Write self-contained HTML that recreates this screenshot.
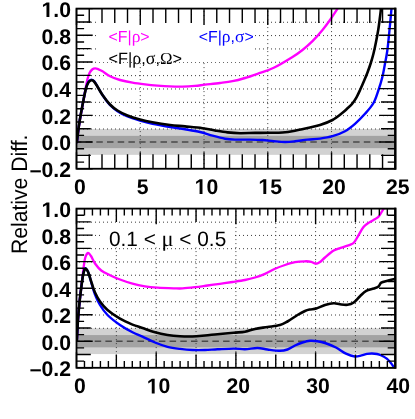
<!DOCTYPE html>
<html><head><meta charset="utf-8"><title>chart</title>
<style>
html,body{margin:0;padding:0;background:#fff;}
body{width:415px;height:419px;overflow:hidden;}
svg{display:block;will-change:transform;}
text{font-family:"Liberation Sans",sans-serif;text-rendering:geometricPrecision;}
.b{font-size:21.2px;font-weight:bold;fill:#000;}
.l{font-size:15.7px;}
.m{font-size:20.6px;}
.g{font-family:"Liberation Serif",serif;}
.t{font-size:21.15px;}
</style></head><body>
<svg width="415" height="419" viewBox="0 0 415 419">
<rect width="100%" height="100%" fill="#fff"/>
<clipPath id="cp1"><rect x="76.50" y="8.60" width="318.80" height="160.15"/></clipPath>
<rect x="76.50" y="129.06" width="318.80" height="25.80" fill="#d2d2d2"/>
<rect x="76.50" y="135.86" width="318.80" height="12.30" fill="#a3a3a3"/>
<line x1="76.50" y1="142.06" x2="395.30" y2="142.06" stroke="#4a4a4a" stroke-width="1.6" stroke-dasharray="6.5 4.2" stroke-dashoffset="-9.1"/>
<path d="M76.50,129.01 H395.30 M76.50,115.67 H395.30 M76.50,102.32 H395.30 M76.50,88.97 H395.30 M76.50,75.63 H395.30 M76.50,62.28 H395.30 M76.50,48.94 H395.30 M76.50,35.59 H395.30 M76.50,22.25 H395.30 M140.26,8.60 V168.75 M204.02,8.60 V168.75 M267.78,8.60 V168.75 M331.54,8.60 V168.75" stroke="#3c3c3c" stroke-width="1" stroke-dasharray="1 3" stroke-dashoffset="-2.5" fill="none"/>
<rect x="96.00" y="19.50" width="158.50" height="42.50" fill="#fff"/>
<path d="M76.90,143.00 C77.13,141.00 77.80,134.83 78.30,131.00 C78.80,127.17 79.38,123.25 79.90,120.00 C80.42,116.75 80.88,114.33 81.40,111.50 C81.92,108.67 82.50,105.67 83.00,103.00 C83.50,100.33 83.95,98.00 84.40,95.50 C84.85,93.00 85.22,90.63 85.70,88.00 C86.18,85.37 86.68,82.17 87.30,79.70 C87.92,77.23 88.58,74.90 89.40,73.20 C90.22,71.50 91.23,70.30 92.20,69.50 C93.17,68.70 94.15,68.43 95.20,68.40 C96.25,68.37 97.28,68.82 98.50,69.30 C99.72,69.78 100.58,70.15 102.50,71.30 C104.42,72.45 107.08,74.75 110.00,76.20 C112.92,77.65 116.25,78.92 120.00,80.00 C123.75,81.08 128.33,81.97 132.50,82.70 C136.67,83.43 140.83,83.92 145.00,84.40 C149.17,84.88 153.33,85.27 157.50,85.60 C161.67,85.93 165.83,86.23 170.00,86.40 C174.17,86.57 178.33,86.68 182.50,86.60 C186.67,86.52 191.25,86.22 195.00,85.90 C198.75,85.58 200.83,85.18 205.00,84.70 C209.17,84.22 215.42,83.58 220.00,83.00 C224.58,82.42 228.33,82.03 232.50,81.20 C236.67,80.37 240.83,79.23 245.00,78.00 C249.17,76.77 252.71,75.50 257.50,73.80 C262.29,72.10 267.92,70.60 273.75,67.80 C279.58,65.00 287.71,59.97 292.50,57.00 C297.29,54.03 299.17,52.63 302.50,50.00 C305.83,47.37 309.17,44.53 312.50,41.20 C315.83,37.87 319.58,33.53 322.50,30.00 C325.42,26.47 327.50,23.55 330.00,20.00 C332.50,16.45 335.67,11.53 337.50,8.70 C339.33,5.87 340.42,3.95 341.00,3.00" stroke="#ff00ff" stroke-width="2.35" fill="none" stroke-linejoin="round" stroke-linecap="butt" clip-path="url(#cp1)"/>
<path d="M76.80,143.00 C77.03,141.00 77.70,134.83 78.20,131.00 C78.70,127.17 79.28,123.25 79.80,120.00 C80.32,116.75 80.78,114.33 81.30,111.50 C81.82,108.67 82.38,105.70 82.90,103.00 C83.42,100.30 83.87,97.85 84.40,95.30 C84.93,92.75 85.45,89.88 86.10,87.70 C86.75,85.52 87.60,83.45 88.30,82.20 C89.00,80.95 89.68,80.60 90.30,80.20 C90.92,79.80 91.38,79.67 92.00,79.80 C92.62,79.93 93.25,80.17 94.00,81.00 C94.75,81.83 95.08,82.47 96.50,84.80 C97.92,87.13 100.25,91.63 102.50,95.00 C104.75,98.37 107.50,102.30 110.00,105.00 C112.50,107.70 114.58,109.28 117.50,111.20 C120.42,113.12 123.75,114.93 127.50,116.50 C131.25,118.07 135.83,119.38 140.00,120.60 C144.17,121.82 147.50,122.73 152.50,123.80 C157.50,124.87 164.58,126.08 170.00,127.00 C175.42,127.92 180.00,128.47 185.00,129.30 C190.00,130.13 195.42,130.93 200.00,132.00 C204.58,133.07 208.33,134.58 212.50,135.70 C216.67,136.82 221.25,138.05 225.00,138.70 C228.75,139.35 230.83,139.45 235.00,139.60 C239.17,139.75 245.42,139.53 250.00,139.60 C254.58,139.67 258.54,139.73 262.50,140.00 C266.46,140.27 270.00,140.87 273.75,141.20 C277.50,141.53 281.46,141.98 285.00,142.00 C288.54,142.02 291.25,141.70 295.00,141.30 C298.75,140.90 303.33,140.05 307.50,139.60 C311.67,139.15 315.83,139.17 320.00,138.60 C324.17,138.03 328.33,137.43 332.50,136.20 C336.67,134.97 341.25,133.27 345.00,131.20 C348.75,129.13 351.67,126.70 355.00,123.80 C358.33,120.90 361.92,117.27 365.00,113.80 C368.08,110.33 371.25,106.97 373.50,103.00 C375.75,99.03 377.04,94.25 378.50,90.00 C379.96,85.75 381.21,81.67 382.25,77.50 C383.29,73.33 383.92,69.42 384.75,65.00 C385.58,60.58 386.46,56.83 387.25,51.00 C388.04,45.17 388.79,37.08 389.50,30.00 C390.21,22.92 391.08,13.17 391.50,8.50 C391.92,3.83 391.92,3.08 392.00,2.00" stroke="#0000ff" stroke-width="2.40" fill="none" stroke-linejoin="round" stroke-linecap="butt" clip-path="url(#cp1)"/>
<path d="M76.80,143.00 C77.03,141.00 77.70,134.83 78.20,131.00 C78.70,127.17 79.28,123.25 79.80,120.00 C80.32,116.75 80.78,114.33 81.30,111.50 C81.82,108.67 82.38,105.67 82.90,103.00 C83.42,100.33 83.87,98.00 84.40,95.50 C84.93,93.00 85.45,90.15 86.10,88.00 C86.75,85.85 87.60,83.82 88.30,82.60 C89.00,81.38 89.68,81.08 90.30,80.70 C90.92,80.32 91.38,80.17 92.00,80.30 C92.62,80.43 93.25,80.72 94.00,81.50 C94.75,82.28 95.08,82.75 96.50,85.00 C97.92,87.25 100.25,91.75 102.50,95.00 C104.75,98.25 107.50,101.92 110.00,104.50 C112.50,107.08 114.58,108.67 117.50,110.50 C120.42,112.33 123.75,114.00 127.50,115.50 C131.25,117.00 135.83,118.37 140.00,119.50 C144.17,120.63 147.50,121.38 152.50,122.30 C157.50,123.22 164.58,124.32 170.00,125.00 C175.42,125.68 179.58,125.87 185.00,126.40 C190.42,126.93 197.50,127.52 202.50,128.20 C207.50,128.88 210.83,129.80 215.00,130.50 C219.17,131.20 223.33,131.95 227.50,132.40 C231.67,132.85 235.42,133.12 240.00,133.20 C244.58,133.28 250.00,132.97 255.00,132.90 C260.00,132.83 265.42,132.87 270.00,132.80 C274.58,132.73 278.33,132.85 282.50,132.50 C286.67,132.15 290.83,131.45 295.00,130.70 C299.17,129.95 303.33,128.95 307.50,128.00 C311.67,127.05 315.83,126.33 320.00,125.00 C324.17,123.67 328.75,122.03 332.50,120.00 C336.25,117.97 340.00,114.75 342.50,112.80 C345.00,110.85 345.92,109.77 347.50,108.30 C349.08,106.83 350.50,105.83 352.00,104.00 C353.50,102.17 355.08,99.80 356.50,97.30 C357.92,94.80 359.25,91.72 360.50,89.00 C361.75,86.28 362.83,83.75 364.00,81.00 C365.17,78.25 366.37,75.50 367.50,72.50 C368.63,69.50 369.80,66.17 370.80,63.00 C371.80,59.83 372.63,57.00 373.50,53.50 C374.37,50.00 375.20,46.00 376.00,42.00 C376.80,38.00 377.63,33.67 378.30,29.50 C378.97,25.33 379.55,20.50 380.00,17.00 C380.45,13.50 380.70,11.00 381.00,8.50 C381.30,6.00 381.67,3.08 381.80,2.00" stroke="#000" stroke-width="2.60" fill="none" stroke-linejoin="round" stroke-linecap="butt" clip-path="url(#cp1)"/>
<path d="M76.50,8.60 v16.40 M76.50,168.75 v-16.40 M89.25,8.60 v14.40 M89.25,168.75 v-14.40 M102.00,8.60 v14.40 M102.00,168.75 v-14.40 M114.76,8.60 v14.40 M114.76,168.75 v-14.40 M127.51,8.60 v14.40 M127.51,168.75 v-14.40 M140.26,8.60 v16.40 M140.26,168.75 v-16.40 M153.01,8.60 v14.40 M153.01,168.75 v-14.40 M165.76,8.60 v14.40 M165.76,168.75 v-14.40 M178.52,8.60 v14.40 M178.52,168.75 v-14.40 M191.27,8.60 v14.40 M191.27,168.75 v-14.40 M204.02,8.60 v16.40 M204.02,168.75 v-16.40 M216.77,8.60 v14.40 M216.77,168.75 v-14.40 M229.52,8.60 v14.40 M229.52,168.75 v-14.40 M242.28,8.60 v14.40 M242.28,168.75 v-14.40 M255.03,8.60 v14.40 M255.03,168.75 v-14.40 M267.78,8.60 v16.40 M267.78,168.75 v-16.40 M280.53,8.60 v14.40 M280.53,168.75 v-14.40 M293.28,8.60 v14.40 M293.28,168.75 v-14.40 M306.04,8.60 v14.40 M306.04,168.75 v-14.40 M318.79,8.60 v14.40 M318.79,168.75 v-14.40 M331.54,8.60 v16.40 M331.54,168.75 v-16.40 M344.29,8.60 v14.40 M344.29,168.75 v-14.40 M357.04,8.60 v14.40 M357.04,168.75 v-14.40 M369.80,8.60 v14.40 M369.80,168.75 v-14.40 M382.55,8.60 v14.40 M382.55,168.75 v-14.40 M395.30,8.60 v16.40 M395.30,168.75 v-16.40 M76.50,168.75 h16.20 M395.30,168.75 h-16.20 M76.50,162.08 h7.60 M395.30,162.08 h-7.60 M76.50,155.40 h14.30 M395.30,155.40 h-14.30 M76.50,148.73 h7.60 M395.30,148.73 h-7.60 M76.50,142.06 h16.20 M395.30,142.06 h-16.20 M76.50,135.39 h7.60 M395.30,135.39 h-7.60 M76.50,128.71 h14.30 M395.30,128.71 h-14.30 M76.50,122.04 h7.60 M395.30,122.04 h-7.60 M76.50,115.37 h16.20 M395.30,115.37 h-16.20 M76.50,108.69 h7.60 M395.30,108.69 h-7.60 M76.50,102.02 h14.30 M395.30,102.02 h-14.30 M76.50,95.35 h7.60 M395.30,95.35 h-7.60 M76.50,88.67 h16.20 M395.30,88.67 h-16.20 M76.50,82.00 h7.60 M395.30,82.00 h-7.60 M76.50,75.33 h14.30 M395.30,75.33 h-14.30 M76.50,68.66 h7.60 M395.30,68.66 h-7.60 M76.50,61.98 h16.20 M395.30,61.98 h-16.20 M76.50,55.31 h7.60 M395.30,55.31 h-7.60 M76.50,48.64 h14.30 M395.30,48.64 h-14.30 M76.50,41.96 h7.60 M395.30,41.96 h-7.60 M76.50,35.29 h16.20 M395.30,35.29 h-16.20 M76.50,28.62 h7.60 M395.30,28.62 h-7.60 M76.50,21.95 h14.30 M395.30,21.95 h-14.30 M76.50,15.27 h7.60 M395.30,15.27 h-7.60 M76.50,8.60 h16.20 M395.30,8.60 h-16.20" stroke="#000" stroke-width="1.40" fill="none"/>
<rect x="76.50" y="8.60" width="318.80" height="160.15" fill="none" stroke="#000" stroke-width="1.80"/>
<line x1="395.30" y1="7.70" x2="395.30" y2="169.65" stroke="#000" stroke-width="2.3"/>
<text x="29.74" y="177.15" class="b">–</text><text x="41.53" y="177.15" class="b">0</text><text x="53.32" y="177.15" class="b">.</text><text x="59.21" y="177.15" class="b">2</text>
<text x="41.53" y="150.46" class="b">0</text><text x="53.32" y="150.46" class="b">.</text><text x="59.21" y="150.46" class="b">0</text>
<text x="41.53" y="123.77" class="b">0</text><text x="53.32" y="123.77" class="b">.</text><text x="59.21" y="123.77" class="b">2</text>
<text x="41.53" y="97.07" class="b">0</text><text x="53.32" y="97.07" class="b">.</text><text x="59.21" y="97.07" class="b">4</text>
<text x="41.53" y="70.38" class="b">0</text><text x="53.32" y="70.38" class="b">.</text><text x="59.21" y="70.38" class="b">6</text>
<text x="41.53" y="43.69" class="b">0</text><text x="53.32" y="43.69" class="b">.</text><text x="59.21" y="43.69" class="b">8</text>
<path d="M46.48,17.00 L46.48,4.89 L42.98,7.07 L42.98,4.79 L46.63,2.41 L49.39,2.41 L49.39,17.00Z" fill="#000"/><text x="53.32" y="17.00" class="b">.</text><text x="59.21" y="17.00" class="b">0</text>
<text x="73.90" y="193.90" class="b">0</text>
<text x="136.76" y="193.90" class="b">5</text>
<path d="M199.58,193.90 L199.58,181.79 L196.08,183.97 L196.08,181.69 L199.73,179.31 L202.49,179.31 L202.49,193.90Z" fill="#000"/><text x="206.42" y="193.90" class="b">0</text>
<path d="M263.34,193.90 L263.34,181.79 L259.84,183.97 L259.84,181.69 L263.49,179.31 L266.25,179.31 L266.25,193.90Z" fill="#000"/><text x="270.18" y="193.90" class="b">5</text>
<text x="322.15" y="193.90" class="b">2</text><text x="333.94" y="193.90" class="b">0</text>
<text x="385.91" y="193.90" class="b">2</text><text x="397.70" y="193.90" class="b">5</text>
<clipPath id="cp2"><rect x="76.50" y="208.60" width="318.80" height="159.20"/></clipPath>
<rect x="76.50" y="328.27" width="318.80" height="25.80" fill="#d2d2d2"/>
<rect x="76.50" y="335.07" width="318.80" height="12.30" fill="#a3a3a3"/>
<line x1="76.50" y1="341.27" x2="395.30" y2="341.27" stroke="#4a4a4a" stroke-width="1.6" stroke-dasharray="6.5 4.2" stroke-dashoffset="-7.5"/>
<path d="M76.50,328.30 H395.30 M76.50,315.03 H395.30 M76.50,301.77 H395.30 M76.50,288.50 H395.30 M76.50,275.23 H395.30 M76.50,261.97 H395.30 M76.50,248.70 H395.30 M76.50,235.43 H395.30 M76.50,222.17 H395.30 M116.35,208.60 V367.80 M156.20,208.60 V367.80 M196.05,208.60 V367.80 M235.90,208.60 V367.80 M275.75,208.60 V367.80 M315.60,208.60 V367.80 M355.45,208.60 V367.80" stroke="#3c3c3c" stroke-width="1" stroke-dasharray="1 3" stroke-dashoffset="-2.5" fill="none"/>
<rect x="101.00" y="223.00" width="133.00" height="24.50" fill="#fff"/>
<path d="M76.80,341.30 C77.00,337.75 77.55,326.47 78.00,320.00 C78.45,313.53 78.97,307.83 79.50,302.50 C80.03,297.17 80.68,292.42 81.20,288.00 C81.72,283.58 82.17,279.67 82.60,276.00 C83.03,272.33 83.35,269.08 83.80,266.00 C84.25,262.92 84.60,259.67 85.30,257.50 C86.00,255.33 87.05,253.25 88.00,253.00 C88.95,252.75 89.83,254.25 91.00,256.00 C92.17,257.75 93.29,261.08 95.00,263.50 C96.71,265.92 98.75,268.55 101.25,270.50 C103.75,272.45 106.88,273.70 110.00,275.20 C113.12,276.70 116.25,278.08 120.00,279.50 C123.75,280.92 128.33,282.57 132.50,283.70 C136.67,284.83 140.83,285.65 145.00,286.30 C149.17,286.95 152.71,287.27 157.50,287.60 C162.29,287.93 169.58,288.17 173.75,288.30 C177.92,288.43 178.96,288.58 182.50,288.40 C186.04,288.22 190.83,287.68 195.00,287.20 C199.17,286.72 203.33,286.07 207.50,285.50 C211.67,284.93 215.83,284.38 220.00,283.80 C224.17,283.22 228.33,282.63 232.50,282.00 C236.67,281.37 241.25,280.75 245.00,280.00 C248.75,279.25 251.67,278.53 255.00,277.50 C258.33,276.47 261.67,275.25 265.00,273.80 C268.33,272.35 271.67,270.27 275.00,268.80 C278.33,267.33 281.67,266.10 285.00,265.00 C288.33,263.90 291.67,262.82 295.00,262.20 C298.33,261.58 302.29,261.37 305.00,261.30 C307.71,261.23 309.50,261.40 311.25,261.80 C313.00,262.20 314.04,263.67 315.50,263.70 C316.96,263.73 318.42,263.03 320.00,262.00 C321.58,260.97 322.71,259.42 325.00,257.50 C327.29,255.58 330.83,252.20 333.75,250.50 C336.67,248.80 339.79,248.25 342.50,247.30 C345.21,246.35 348.08,245.60 350.00,244.80 C351.92,244.00 352.67,243.93 354.00,242.50 C355.33,241.07 356.42,238.77 358.00,236.20 C359.58,233.63 361.67,229.37 363.50,227.10 C365.33,224.83 367.03,223.95 369.00,222.60 C370.97,221.25 373.65,220.05 375.30,219.00 C376.95,217.95 377.55,217.97 378.90,216.30 C380.25,214.63 382.05,211.22 383.40,209.00 C384.75,206.78 386.40,204.00 387.00,203.00" stroke="#ff00ff" stroke-width="2.35" fill="none" stroke-linejoin="round" stroke-linecap="butt" clip-path="url(#cp2)"/>
<path d="M76.80,341.30 C77.00,337.75 77.55,326.47 78.00,320.00 C78.45,313.53 78.97,307.83 79.50,302.50 C80.03,297.17 80.62,292.53 81.20,288.00 C81.78,283.47 82.47,278.35 83.00,275.30 C83.53,272.25 83.98,270.87 84.40,269.70 C84.82,268.53 85.07,268.25 85.50,268.30 C85.93,268.35 86.46,269.10 87.00,270.00 C87.54,270.90 87.92,271.20 88.75,273.70 C89.58,276.20 90.96,281.53 92.00,285.00 C93.04,288.47 93.67,291.17 95.00,294.50 C96.33,297.83 97.92,301.58 100.00,305.00 C102.08,308.42 104.17,311.67 107.50,315.00 C110.83,318.33 115.83,322.12 120.00,325.00 C124.17,327.88 128.75,330.37 132.50,332.30 C136.25,334.23 138.75,334.90 142.50,336.60 C146.25,338.30 150.83,340.80 155.00,342.50 C159.17,344.20 163.33,345.73 167.50,346.80 C171.67,347.87 175.83,348.37 180.00,348.90 C184.17,349.43 188.33,349.82 192.50,350.00 C196.67,350.18 200.83,350.12 205.00,350.00 C209.17,349.88 212.71,349.53 217.50,349.30 C222.29,349.07 229.17,348.62 233.75,348.60 C238.33,348.58 241.04,349.30 245.00,349.20 C248.96,349.10 253.75,347.95 257.50,348.00 C261.25,348.05 263.75,349.03 267.50,349.50 C271.25,349.97 276.67,350.80 280.00,350.80 C283.33,350.80 285.00,350.38 287.50,349.50 C290.00,348.62 292.50,346.67 295.00,345.50 C297.50,344.33 300.00,343.28 302.50,342.50 C305.00,341.72 307.50,341.02 310.00,340.80 C312.50,340.58 315.00,340.83 317.50,341.20 C320.00,341.57 321.92,341.95 325.00,343.00 C328.08,344.05 332.50,345.72 336.00,347.50 C339.50,349.28 342.88,352.20 346.00,353.70 C349.12,355.20 352.17,356.22 354.75,356.50 C357.33,356.78 359.46,355.83 361.50,355.40 C363.54,354.97 365.25,354.22 367.00,353.90 C368.75,353.58 370.33,353.48 372.00,353.50 C373.67,353.52 375.42,353.67 377.00,354.00 C378.58,354.33 379.87,354.73 381.50,355.50 C383.13,356.27 385.30,357.43 386.80,358.60 C388.30,359.77 389.38,361.17 390.50,362.50 C391.62,363.83 392.42,365.02 393.50,366.60 C394.58,368.18 396.42,371.10 397.00,372.00" stroke="#0000ff" stroke-width="2.40" fill="none" stroke-linejoin="round" stroke-linecap="butt" clip-path="url(#cp2)"/>
<path d="M76.80,341.30 C77.00,337.75 77.55,326.47 78.00,320.00 C78.45,313.53 78.97,307.83 79.50,302.50 C80.03,297.17 80.62,292.50 81.20,288.00 C81.78,283.50 82.47,278.50 83.00,275.50 C83.53,272.50 83.98,271.15 84.40,270.00 C84.82,268.85 85.07,268.60 85.50,268.60 C85.93,268.60 86.46,269.15 87.00,270.00 C87.54,270.85 87.92,271.37 88.75,273.70 C89.58,276.03 90.96,280.87 92.00,284.00 C93.04,287.13 93.67,289.58 95.00,292.50 C96.33,295.42 97.92,298.58 100.00,301.50 C102.08,304.42 104.17,307.13 107.50,310.00 C110.83,312.87 115.83,316.27 120.00,318.70 C124.17,321.13 128.75,323.05 132.50,324.60 C136.25,326.15 138.75,326.72 142.50,328.00 C146.25,329.28 150.83,331.13 155.00,332.30 C159.17,333.47 163.33,334.33 167.50,335.00 C171.67,335.67 175.83,336.05 180.00,336.30 C184.17,336.55 188.33,336.63 192.50,336.50 C196.67,336.37 200.83,335.88 205.00,335.50 C209.17,335.12 212.71,334.67 217.50,334.20 C222.29,333.73 229.17,333.12 233.75,332.70 C238.33,332.28 241.46,332.33 245.00,331.70 C248.54,331.07 251.25,329.68 255.00,328.90 C258.75,328.12 263.33,327.65 267.50,327.00 C271.67,326.35 276.67,325.92 280.00,325.00 C283.33,324.08 284.58,323.17 287.50,321.50 C290.42,319.83 294.58,316.75 297.50,315.00 C300.42,313.25 302.92,311.92 305.00,311.00 C307.08,310.08 308.12,309.90 310.00,309.50 C311.88,309.10 313.75,309.35 316.25,308.60 C318.75,307.85 322.08,305.90 325.00,305.00 C327.92,304.10 331.25,303.32 333.75,303.20 C336.25,303.08 337.71,304.03 340.00,304.30 C342.29,304.57 345.21,305.10 347.50,304.80 C349.79,304.50 351.67,303.93 353.75,302.50 C355.83,301.07 357.92,298.15 360.00,296.20 C362.08,294.25 363.96,292.07 366.25,290.80 C368.54,289.53 371.71,289.32 373.75,288.60 C375.79,287.88 377.25,287.48 378.50,286.50 C379.75,285.52 379.75,283.67 381.25,282.70 C382.75,281.73 385.04,281.37 387.50,280.70 C389.96,280.03 394.58,279.03 396.00,278.70" stroke="#000" stroke-width="2.60" fill="none" stroke-linejoin="round" stroke-linecap="butt" clip-path="url(#cp2)"/>
<path d="M76.50,208.60 v15.60 M76.50,367.80 v-15.60 M84.47,208.60 v6.80 M84.47,367.80 v-6.80 M92.44,208.60 v6.80 M92.44,367.80 v-6.80 M100.41,208.60 v6.80 M100.41,367.80 v-6.80 M108.38,208.60 v6.80 M108.38,367.80 v-6.80 M116.35,208.60 v13.40 M116.35,367.80 v-13.40 M124.32,208.60 v6.80 M124.32,367.80 v-6.80 M132.29,208.60 v6.80 M132.29,367.80 v-6.80 M140.26,208.60 v6.80 M140.26,367.80 v-6.80 M148.23,208.60 v6.80 M148.23,367.80 v-6.80 M156.20,208.60 v15.60 M156.20,367.80 v-15.60 M164.17,208.60 v6.80 M164.17,367.80 v-6.80 M172.14,208.60 v6.80 M172.14,367.80 v-6.80 M180.11,208.60 v6.80 M180.11,367.80 v-6.80 M188.08,208.60 v6.80 M188.08,367.80 v-6.80 M196.05,208.60 v13.40 M196.05,367.80 v-13.40 M204.02,208.60 v6.80 M204.02,367.80 v-6.80 M211.99,208.60 v6.80 M211.99,367.80 v-6.80 M219.96,208.60 v6.80 M219.96,367.80 v-6.80 M227.93,208.60 v6.80 M227.93,367.80 v-6.80 M235.90,208.60 v15.60 M235.90,367.80 v-15.60 M243.87,208.60 v6.80 M243.87,367.80 v-6.80 M251.84,208.60 v6.80 M251.84,367.80 v-6.80 M259.81,208.60 v6.80 M259.81,367.80 v-6.80 M267.78,208.60 v6.80 M267.78,367.80 v-6.80 M275.75,208.60 v13.40 M275.75,367.80 v-13.40 M283.72,208.60 v6.80 M283.72,367.80 v-6.80 M291.69,208.60 v6.80 M291.69,367.80 v-6.80 M299.66,208.60 v6.80 M299.66,367.80 v-6.80 M307.63,208.60 v6.80 M307.63,367.80 v-6.80 M315.60,208.60 v15.60 M315.60,367.80 v-15.60 M323.57,208.60 v6.80 M323.57,367.80 v-6.80 M331.54,208.60 v6.80 M331.54,367.80 v-6.80 M339.51,208.60 v6.80 M339.51,367.80 v-6.80 M347.48,208.60 v6.80 M347.48,367.80 v-6.80 M355.45,208.60 v13.40 M355.45,367.80 v-13.40 M363.42,208.60 v6.80 M363.42,367.80 v-6.80 M371.39,208.60 v6.80 M371.39,367.80 v-6.80 M379.36,208.60 v6.80 M379.36,367.80 v-6.80 M387.33,208.60 v6.80 M387.33,367.80 v-6.80 M395.30,208.60 v15.60 M395.30,367.80 v-15.60 M76.50,367.80 h16.20 M395.30,367.80 h-16.20 M76.50,361.17 h7.60 M395.30,361.17 h-7.60 M76.50,354.53 h14.30 M395.30,354.53 h-14.30 M76.50,347.90 h7.60 M395.30,347.90 h-7.60 M76.50,341.27 h16.20 M395.30,341.27 h-16.20 M76.50,334.63 h7.60 M395.30,334.63 h-7.60 M76.50,328.00 h14.30 M395.30,328.00 h-14.30 M76.50,321.37 h7.60 M395.30,321.37 h-7.60 M76.50,314.73 h16.20 M395.30,314.73 h-16.20 M76.50,308.10 h7.60 M395.30,308.10 h-7.60 M76.50,301.47 h14.30 M395.30,301.47 h-14.30 M76.50,294.83 h7.60 M395.30,294.83 h-7.60 M76.50,288.20 h16.20 M395.30,288.20 h-16.20 M76.50,281.57 h7.60 M395.30,281.57 h-7.60 M76.50,274.93 h14.30 M395.30,274.93 h-14.30 M76.50,268.30 h7.60 M395.30,268.30 h-7.60 M76.50,261.67 h16.20 M395.30,261.67 h-16.20 M76.50,255.03 h7.60 M395.30,255.03 h-7.60 M76.50,248.40 h14.30 M395.30,248.40 h-14.30 M76.50,241.77 h7.60 M395.30,241.77 h-7.60 M76.50,235.13 h16.20 M395.30,235.13 h-16.20 M76.50,228.50 h7.60 M395.30,228.50 h-7.60 M76.50,221.87 h14.30 M395.30,221.87 h-14.30 M76.50,215.23 h7.60 M395.30,215.23 h-7.60 M76.50,208.60 h16.20 M395.30,208.60 h-16.20" stroke="#000" stroke-width="1.40" fill="none"/>
<rect x="76.50" y="208.60" width="318.80" height="159.20" fill="none" stroke="#000" stroke-width="1.80"/>
<line x1="395.30" y1="207.70" x2="395.30" y2="368.70" stroke="#000" stroke-width="2.3"/>
<text x="29.74" y="376.20" class="b">–</text><text x="41.53" y="376.20" class="b">0</text><text x="53.32" y="376.20" class="b">.</text><text x="59.21" y="376.20" class="b">2</text>
<text x="41.53" y="349.67" class="b">0</text><text x="53.32" y="349.67" class="b">.</text><text x="59.21" y="349.67" class="b">0</text>
<text x="41.53" y="323.13" class="b">0</text><text x="53.32" y="323.13" class="b">.</text><text x="59.21" y="323.13" class="b">2</text>
<text x="41.53" y="296.60" class="b">0</text><text x="53.32" y="296.60" class="b">.</text><text x="59.21" y="296.60" class="b">4</text>
<text x="41.53" y="270.07" class="b">0</text><text x="53.32" y="270.07" class="b">.</text><text x="59.21" y="270.07" class="b">6</text>
<text x="41.53" y="243.53" class="b">0</text><text x="53.32" y="243.53" class="b">.</text><text x="59.21" y="243.53" class="b">8</text>
<path d="M46.48,217.00 L46.48,204.89 L42.98,207.07 L42.98,204.79 L46.63,202.41 L49.39,202.41 L49.39,217.00Z" fill="#000"/><text x="53.32" y="217.00" class="b">.</text><text x="59.21" y="217.00" class="b">0</text>
<text x="73.90" y="393.40" class="b">0</text>
<path d="M151.76,393.40 L151.76,381.29 L148.26,383.47 L148.26,381.19 L151.91,378.81 L154.67,378.81 L154.67,393.40Z" fill="#000"/><text x="158.60" y="393.40" class="b">0</text>
<text x="226.51" y="393.40" class="b">2</text><text x="238.30" y="393.40" class="b">0</text>
<text x="306.21" y="393.40" class="b">3</text><text x="318.00" y="393.40" class="b">0</text>
<text x="386.51" y="393.40" class="b">4</text><text x="398.30" y="393.40" class="b">0</text>
<text x="108.50" y="42.00" font-size="15.90" fill="#ff00ff">&lt;F|</text><text x="131.64" y="42.00" font-size="17.49" fill="#ff00ff" class="g">ρ</text><text x="140.36" y="42.00" font-size="15.90" fill="#ff00ff" xml:space="preserve">&gt;</text>
<text x="198.70" y="42.00" font-size="15.90" fill="#0000ff">&lt;F|</text><text x="221.84" y="42.00" font-size="17.49" fill="#0000ff" class="g">ρ</text><text x="230.56" y="42.00" font-size="15.90" fill="#0000ff">,</text><text x="235.06" y="42.00" font-size="17.49" fill="#0000ff" class="g">σ</text><text x="244.57" y="42.00" font-size="15.90" fill="#0000ff" xml:space="preserve">&gt;</text>
<text x="108.50" y="63.80" font-size="16.30" fill="#000">&lt;F|</text><text x="132.22" y="63.80" font-size="17.93" fill="#000" class="g">ρ</text><text x="141.17" y="63.80" font-size="16.30" fill="#000">,</text><text x="145.78" y="63.80" font-size="17.93" fill="#000" class="g">σ</text><text x="155.53" y="63.80" font-size="16.30" fill="#000">,</text><text x="160.08" y="63.80" font-size="16.79" fill="#000" class="g">Ω</text><text x="172.58" y="63.80" font-size="16.30" fill="#000" xml:space="preserve">&gt;</text>
<text x="109.00" y="246.20" font-size="20.80" fill="#000">0.1 &lt; </text><text x="161.59" y="246.20" font-size="22.46" fill="#000" class="g">μ</text><text x="173.60" y="246.20" font-size="20.80" fill="#000" xml:space="preserve"> &lt; 0.5</text>
<text transform="translate(27.3,254.0) rotate(-90) scale(1,1.06)" class="t" fill="#000">Relative Diff.</text>
</svg>
</body></html>
